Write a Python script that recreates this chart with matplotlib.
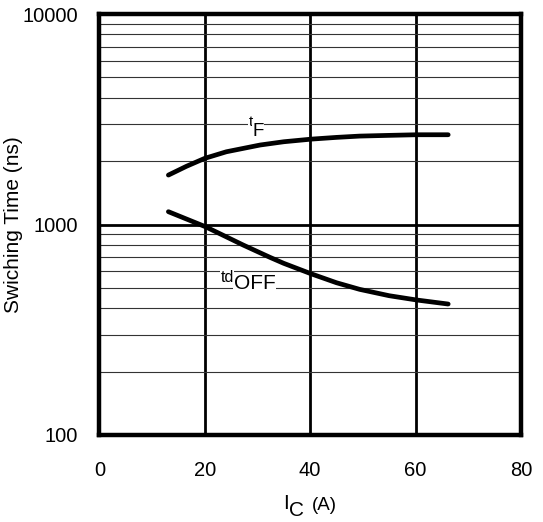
import numpy as np
import matplotlib.pyplot as plt
from matplotlib.ticker import FixedLocator, LogLocator, NullFormatter

plt.rcParams['font.family'] = ['Liberation Sans', 'DejaVu Sans']

# values
ic_tf = [13.1, 16.5, 20, 24.1, 30.5, 35, 40.3, 45, 49.4, 55, 60.2, 66.2]
tf = [1718, 1890, 2063, 2217, 2387, 2474, 2547, 2595, 2632, 2653, 2671, 2671]

ic_tdoff = [13.1, 20.15, 27.3, 32.4, 35, 40.3, 45, 49.4, 55, 60.2, 66.2]
tdoff = [1151, 976, 799, 698, 654, 582, 529, 492, 459, 438, 419]

x_ticks = [0, 20, 40, 60, 80]
y_ticks = [100, 1000, 10000]

fig = plt.figure(figsize=(5.43, 5.22), dpi=100)
ax = fig.add_axes([0.183, 0.1667, 0.7763, 0.8063])

ax.set_yscale('log')
ax.set_xlim(0, 80)
ax.set_ylim(100, 10000)

# thin minor grid
ax.yaxis.set_minor_locator(LogLocator(base=10, subs=np.arange(2, 10)))
ax.yaxis.set_minor_formatter(NullFormatter())
ax.grid(True, which='minor', axis='y', color='#333333', lw=0.8)
# heavy grid lines
for xv in [20, 40, 60]:
    ax.axvline(xv, color='black', lw=2.0, zorder=1)
ax.axhline(1000, color='black', lw=2.0, zorder=1)

ax.plot(ic_tf, tf, color='black', lw=3.4, solid_capstyle='round',
        solid_joinstyle='round', zorder=3)
ax.plot(ic_tdoff, tdoff, color='black', lw=3.4, solid_capstyle='round',
        solid_joinstyle='round', zorder=3)

white = dict(facecolor='white', edgecolor='none', pad=0.3)


def curve_label(x, y, small, big, fs_small, fs_big, up, down):
    ax.annotate(small, (x, y), xytext=(0, up), textcoords='offset points',
                ha='right', va='center', fontsize=fs_small, bbox=white, zorder=4)
    ax.annotate(big, (x, y), xytext=(0, -down), textcoords='offset points',
                ha='left', va='center', fontsize=fs_big, bbox=white, zorder=4)


curve_label(29.1, 2915, 't', 'F', 11, 13.5, 3.6, 3.6)
curve_label(25.5, 543, 'td', 'OFF', 11.5, 15, 2.2, 2.2)

ax.xaxis.set_major_locator(FixedLocator(x_ticks))
ax.yaxis.set_major_locator(FixedLocator(y_ticks))
ax.set_yticklabels([str(v) for v in y_ticks])
ax.tick_params(axis='both', which='both', length=0, labelsize=14.5)
ax.tick_params(axis='y', pad=15.5)
ax.tick_params(axis='x', pad=19)

for s in ax.spines.values():
    s.set_linewidth(3.2)
    s.set_zorder(5)

ax.set_ylabel('Swiching Time (ns)', fontsize=15)
ax.yaxis.set_label_coords(-0.1815, 0.5)

# x label built from pieces: I, lowered C, smaller (A)
ax.text(0.4496, -0.1639, 'I', transform=ax.transAxes, fontsize=15,
        ha='right', va='center')
ax.text(0.4496, -0.179, 'C', transform=ax.transAxes, fontsize=15,
        ha='left', va='center')
ax.text(0.5042, -0.1686, '(A)', transform=ax.transAxes, fontsize=13.5,
        ha='left', va='center')

plt.savefig('out.png', dpi=100)
